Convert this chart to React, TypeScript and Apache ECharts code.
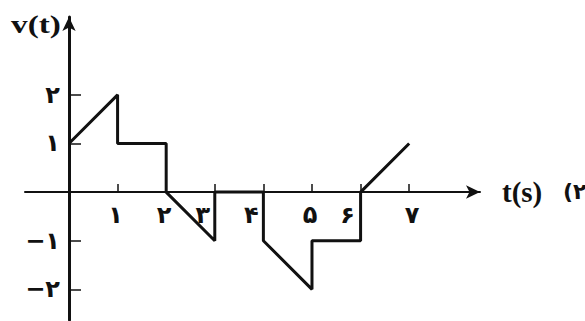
import React, { useEffect, useRef } from "react";
import * as echarts from "echarts";

const tValues = [0, 1, 1, 2, 2, 3, 3, 4, 4, 5, 5, 6, 6, 7];
const vValues = [1, 2, 1, 1, 0, -1, 0, 0, -1, -2, -1, -1, 0, 1];

const xTicks = [1, 2, 3, 4, 5, 6, 7];
const xTickLabels = ["۱", "۲", "۳", "۴", "۵", "۶", "۷"];
const yTicks = [-2, -1, 1, 2];
const yTickLabels = ["−۲", "−۱", "۱", "۲"];

// label nudges (rich style key per tick) to mimic the drawing
const xLabelStyle = ["c", "c", "l", "l", "c", "l2", "r"];

const labelFont = {
  fontFamily: "DejaVu Sans",
  fontWeight: "bold" as const,
  fontSize: 24,
  color: "#111",
};

export default function App() {
  const ref = useRef<HTMLDivElement>(null);
  useEffect(() => {
    if (!ref.current) return;
    const chart = echarts.init(ref.current, undefined, { renderer: "svg" });
    const data = tValues.map((t, i) => [t, vValues[i]]);
    chart.setOption({
      animation: false,
      backgroundColor: "#fff",
      grid: {
        left: 25,
        right: 105,
        top: 17,
        bottom: 1,
        containLabel: false,
        outerBoundsMode: "none",
      },
      xAxis: {
        type: "value",
        min: -0.905,
        max: 8.457,
        position: "bottom",
        offset: -128,
        axisLine: {
          onZero: false,
          symbol: ["none", "arrow"],
          symbolSize: [10, 14],
          lineStyle: { color: "#111", width: 2 },
        },
        splitLine: { show: false },
        axisTick: {
          show: true,
          inside: true,
          length: 8,
          customValues: xTicks,
          lineStyle: { color: "#111", width: 1.5 },
        },
        axisLabel: {
          show: true,
          customValues: xTicks,
          margin: 11,
          formatter: (v: number) => {
            const i = xTicks.indexOf(Math.round(v));
            return i >= 0 ? `{${xLabelStyle[i]}|${xTickLabels[i]}}` : "";
          },
          rich: {
            c: { ...labelFont, padding: [0, 4, 0, 0] },
            l: { ...labelFont, padding: [0, 24, 0, 0] },
            l2: { ...labelFont, padding: [0, 26, 0, 0] },
            r: { ...labelFont, padding: [0, 0, 0, 6] },
          },
        },
      },
      yAxis: {
        type: "value",
        min: -2.63,
        max: 3.6,
        position: "left",
        offset: -44,
        axisLine: {
          onZero: false,
          symbol: ["none", "arrow"],
          symbolSize: [10, 14],
          lineStyle: { color: "#111", width: 3 },
        },
        splitLine: { show: false },
        axisTick: {
          show: true,
          inside: true,
          length: 12,
          customValues: yTicks,
          lineStyle: { color: "#111", width: 1.5 },
        },
        axisLabel: {
          show: true,
          customValues: yTicks,
          margin: 9,
          ...labelFont,
          formatter: (v: number) => {
            const i = yTicks.indexOf(Math.round(v));
            return i >= 0 ? yTickLabels[i] : "";
          },
        },
      },
      series: [
        {
          type: "line",
          data,
          symbol: "none",
          z: 10,
          lineStyle: { color: "#111", width: 3 },
        },
      ],
      graphic: [
        {
          type: "text",
          x: 11,
          y: 11,
          scaleX: 1.28,
          style: {
            text: "v(t)",
            font: 'bold 26px "Liberation Serif"',
            fill: "#111",
          },
        },
        {
          type: "text",
          x: 502,
          y: 177,
          style: {
            text: "t(s)",
            font: 'bold 29px "Liberation Serif"',
            fill: "#111",
          },
        },
        {
          type: "text",
          x: 563,
          y: 180,
          style: {
            text: "(۲",
            font: 'bold 22px "DejaVu Sans"',
            fill: "#111",
          },
        },
      ],
    });
    return () => chart.dispose();
  }, []);
  return <div ref={ref} style={{ width: 585, height: 321, position: "absolute", left: 0, top: 0 }} />;
}
